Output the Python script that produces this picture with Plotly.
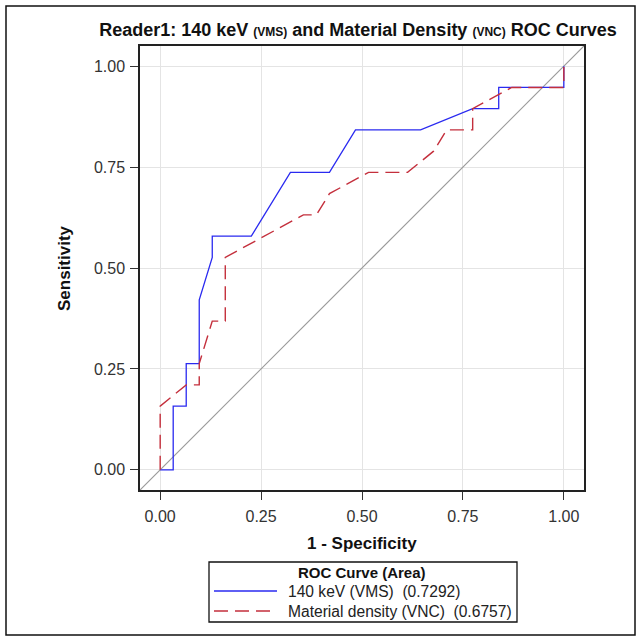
import plotly.graph_objects as go

# ROC data (1-specificity, sensitivity); 31 negatives, 19 positives
vms_fpr = [0, 1/31, 1/31, 2/31, 2/31, 3/31, 3/31, 4/31, 4/31, 7/31, 10/31, 13/31, 15/31, 20/31, 24/31, 26/31, 26/31, 1, 1]
vms_tpr = [0, 0, 3/19, 3/19, 5/19, 5/19, 8/19, 10/19, 11/19, 11/19, 14/19, 14/19, 16/19, 16/19, 17/19, 17/19, 18/19, 18/19, 1]

vnc_fpr = [0, 0, 2/31, 3/31, 3/31, 4/31, 5/31, 5/31, 11/31, 12/31, 13/31, 16/31, 19/31, 21/31, 22/31, 24/31, 24/31, 27/31, 1, 1]
vnc_tpr = [0, 3/19, 4/19, 4/19, 5/19, 7/19, 7/19, 10/19, 12/19, 12/19, 13/19, 14/19, 14/19, 15/19, 16/19, 16/19, 17/19, 18/19, 18/19, 1]

ref_line = [-0.05, 1.05]
tick_vals = [0, 0.25, 0.5, 0.75, 1.0]
tick_text = ["0.00", "0.25", "0.50", "0.75", "1.00"]

names = ["140 keV (VMS)&nbsp;&nbsp;(0.7292)", "Material density (VNC)&nbsp;&nbsp;(0.6757)"]
legend_title = "ROC Curve (Area)"

W, H = 641, 641
ML, MR, MT, MB = 140, 57, 46, 151
pw, ph = W - ML - MR, H - MT - MB


def px_x(p):
    return (p - ML) / pw


def px_y(p):
    return (H - MB - p) / ph


BLUE, RED = "#2a2af0", "#c42f3c"
RED_DASH = "14px,7px"

fig = go.Figure()
fig.add_trace(go.Scatter(x=ref_line, y=ref_line, mode="lines",
                         line=dict(color="#9a9a9a", width=1.2), showlegend=False, hoverinfo="skip"))
fig.add_trace(go.Scatter(x=vms_fpr, y=vms_tpr, mode="lines", name=names[0], showlegend=False,
                         line=dict(color=BLUE, width=1.3)))
fig.add_trace(go.Scatter(x=vnc_fpr, y=vnc_tpr, mode="lines", name=names[1], showlegend=False,
                         line=dict(color=RED, width=1.4, dash=RED_DASH)))

font = "Liberation Sans, Arial, sans-serif"
axis_common = dict(range=[-0.05, 1.05], tickvals=tick_vals, ticktext=tick_text,
                   showgrid=True, gridcolor="#e4e4e4", gridwidth=1, zeroline=False,
                   showline=True, linecolor="#222", linewidth=1.5, mirror=True,
                   ticks="outside", ticklen=8, tickcolor="#333",
                   tickfont=dict(family=font, size=16, color="#333"))

fig.update_layout(
    width=W, height=H,
    margin=dict(l=ML, r=MR, t=MT, b=MB, autoexpand=False),
    paper_bgcolor="white", plot_bgcolor="white",
    font=dict(family=font, color="#111"),
    title=dict(text="<b>Reader1: 140 keV <span style='font-size:12px'>(VMS)</span> and Material Density <span style='font-size:12px'>(VNC)</span> ROC Curves</b>",
               x=358 / W, xanchor="center", y=1 - 30 / H, yanchor="middle",
               font=dict(family=font, size=18, color="#111")),
    xaxis=dict(**axis_common, ticklabelstandoff=3),
    yaxis=dict(**axis_common, ticklabelstandoff=2),
    showlegend=False,
)

fig.add_annotation(text="<b>1 - Specificity</b>", xref="paper", yref="paper",
                   x=px_x(362), y=px_y(543), xanchor="center", yanchor="middle",
                   showarrow=False, font=dict(family=font, size=17, color="#111"))
fig.add_annotation(text="<b>Sensitivity</b>", xref="paper", yref="paper",
                   x=px_x(64), y=px_y(268), xanchor="center", yanchor="middle", textangle=-90,
                   showarrow=False, font=dict(family=font, size=17, color="#111"))

# legend box (drawn manually to match the boxed SAS legend)
fig.add_shape(type="rect", xref="paper", yref="paper",
              x0=px_x(209), x1=px_x(517), y0=px_y(622), y1=px_y(562),
              line=dict(color="#111", width=1.3), fillcolor="white")
fig.add_annotation(text="<b>" + legend_title + "</b>", xref="paper", yref="paper",
                   x=px_x(362), y=px_y(572), xanchor="center", yanchor="middle",
                   showarrow=False, font=dict(family=font, size=15, color="#111"))
for i, (nm, col, dash, w) in enumerate([(names[0], BLUE, "solid", 1.3), (names[1], RED, RED_DASH, 1.5)]):
    yy = 591 + 20 * i
    fig.add_shape(type="line", xref="paper", yref="paper",
                  x0=px_x(214), x1=px_x(277), y0=px_y(yy), y1=px_y(yy),
                  line=dict(color=col, width=w, dash=dash))
    fig.add_annotation(text=nm, xref="paper", yref="paper",
                       x=px_x(286), y=px_y(yy), xanchor="left", yanchor="middle",
                       showarrow=False, font=dict(family=font, size=15.6, color="#222"))

# outer border of the image
fig.add_shape(type="rect", xref="paper", yref="paper",
              x0=px_x(6), x1=px_x(635), y0=px_y(635), y1=px_y(6),
              line=dict(color="#111", width=1.5), fillcolor="rgba(0,0,0,0)", layer="below")

fig.write_html("out.html", config={"displayModeBar": False},
               post_script="document.body.style.margin='0px';document.body.style.overflow='hidden';")
